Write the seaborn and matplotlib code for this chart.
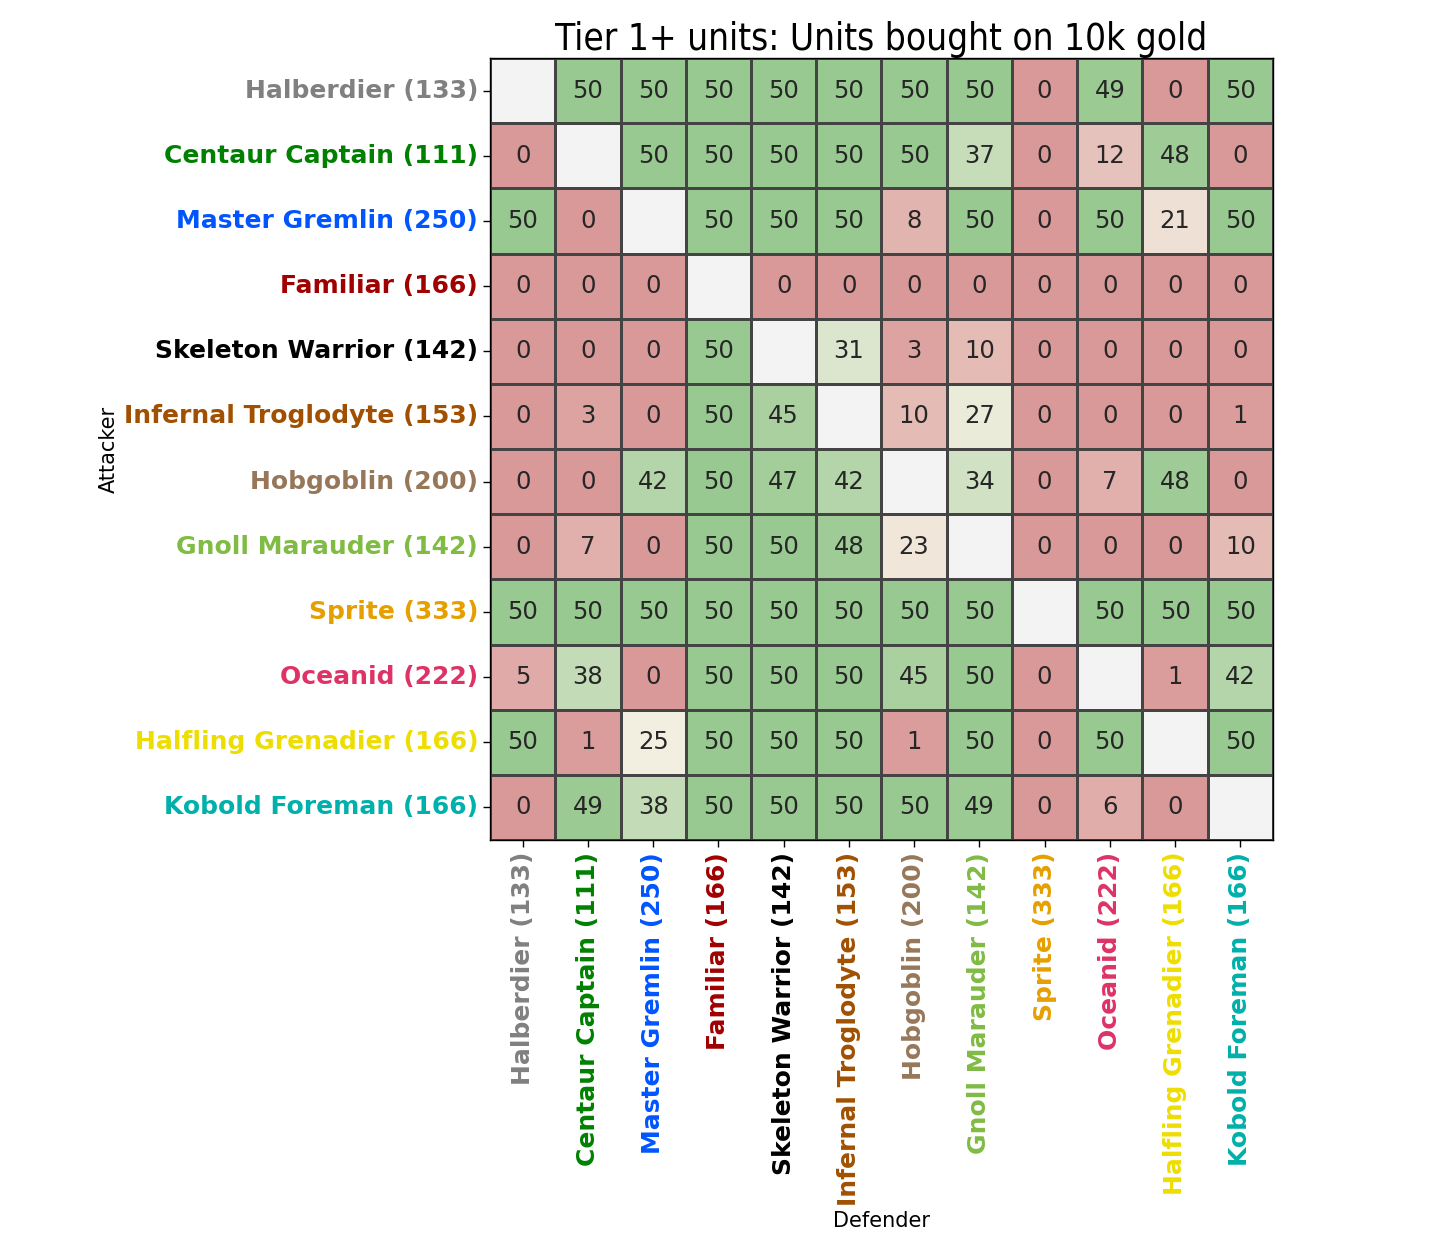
import numpy as np
import pandas as pd
import matplotlib
matplotlib.use("Agg")
import matplotlib.pyplot as plt
import seaborn as sns
from matplotlib.colors import LinearSegmentedColormap

units = ["Halberdier (133)", "Centaur Captain (111)", "Master Gremlin (250)",
         "Familiar (166)", "Skeleton Warrior (142)", "Infernal Troglodyte (153)",
         "Hobgoblin (200)", "Gnoll Marauder (142)", "Sprite (333)",
         "Oceanid (222)", "Halfling Grenadier (166)", "Kobold Foreman (166)"]

label_colors = ["#808080", "#008000", "#0055ff", "#a00000", "#000000", "#a05000",
                "#967759", "#80bb44", "#e69f00", "#dd3366", "#eedd00", "#00b0aa"]

N = np.nan
values = [
    [N, 50, 50, 50, 50, 50, 50, 50, 0, 49, 0, 50],
    [0, N, 50, 50, 50, 50, 50, 37, 0, 12, 48, 0],
    [50, 0, N, 50, 50, 50, 8, 50, 0, 50, 21, 50],
    [0, 0, 0, N, 0, 0, 0, 0, 0, 0, 0, 0],
    [0, 0, 0, 50, N, 31, 3, 10, 0, 0, 0, 0],
    [0, 3, 0, 50, 45, N, 10, 27, 0, 0, 0, 1],
    [0, 0, 42, 50, 47, 42, N, 34, 0, 7, 48, 0],
    [0, 7, 0, 50, 50, 48, 23, N, 0, 0, 0, 10],
    [50, 50, 50, 50, 50, 50, 50, 50, N, 50, 50, 50],
    [5, 38, 0, 50, 50, 50, 45, 50, 0, N, 1, 42],
    [50, 1, 25, 50, 50, 50, 1, 50, 0, 50, N, 50],
    [0, 49, 38, 50, 50, 50, 50, 49, 0, 6, 0, N],
]

df = pd.DataFrame(values, index=units, columns=units)

cmap = LinearSegmentedColormap.from_list(
    "rg", [(218/255, 153/255, 153/255), (242/255, 238/255, 224/255), (152/255, 201/255, 144/255)])

fig = plt.figure(figsize=(14.4, 12.59), dpi=100)
ax = fig.add_axes([0.3403, 0.3328, 0.5437, 0.6211])
ax.set_facecolor("#f3f3f3")

sns.heatmap(df, ax=ax, cmap=cmap, vmin=0, vmax=50, annot=True, fmt=".0f",
            annot_kws={"size": 17.5, "color": "#262626"}, cbar=False,
            linewidths=1, linecolor="#444444", square=False)

for spine in ax.spines.values():
    spine.set_visible(True)
    spine.set_color("black")
    spine.set_linewidth(1)

ax.tick_params(axis="both", length=5, width=1)
ax.set_xticklabels(units, rotation=90, fontsize=18, fontweight="bold")
ax.set_yticklabels(units, rotation=0, fontsize=18, fontweight="bold")
for lbl, c in zip(ax.get_xticklabels(), label_colors):
    lbl.set_color(c)
for lbl, c in zip(ax.get_yticklabels(), label_colors):
    lbl.set_color(c)

ax.set_xlabel("Defender", fontsize=15)
ax.set_ylabel("Attacker", fontsize=15)
ax.set_title("Tier 1+ units: Units bought on 10k gold", fontsize=26.5, fontstretch="condensed")

fig.savefig("out.png", dpi=100)
